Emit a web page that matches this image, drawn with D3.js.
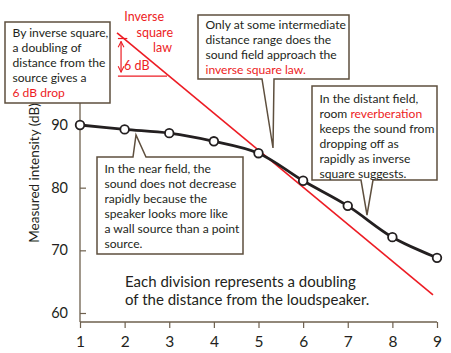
<!DOCTYPE html>
<html>
<head>
<meta charset="utf-8">
<script src="https://cdn.jsdelivr.net/npm/d3@7"></script>
<style>
  body { margin: 0; background: #fff; }
  svg text { font-family: Lato, "Open Sans", sans-serif; }
</style>
</head>
<body>
<div id="chart"></div>
<script>
// distance divisions (each one a doubling) and measured level
var distance = [1, 2, 3, 4, 5, 6, 7, 8, 9];
var measured = [90.0, 89.3, 88.7, 87.4, 85.5, 81.1, 77.1, 72.1, 68.8];

// inverse square law reference line (end points)
var invX = [1.83, 8.91];
var invDb = [104.7, 62.9];

// the "6 dB" bracket: two levels, and where each short line starts/ends
var bracketDb = [103.8, 97.8];
var bracketX0 = [1.85, 1.85];
var bracketX1 = [2.06, 2.95];
var arrowX = 1.92;

var xTicks = [1, 2, 3, 4, 5, 6, 7, 8, 9];
var yTicks = [60, 70, 80, 90];
var yTitle = "Measured intensity (dB)";
var lawLabel = ["Inverse", "square", "law"];
var dbLabel = "6 dB";
var footNote = ["Each division represents a doubling", "of the distance from the loudspeaker."];

// callout texts, each line a list of [text, isRed]
var note1 = [[["By inverse square,", 0]], [["a doubling of", 0]], [["distance from the", 0]],
             [["source gives a", 0]], [["6 dB drop", 1]]];
var note2 = [[["Only at some intermediate", 0]], [["distance range does the", 0]],
             [["sound field approach the", 0]], [["inverse square law.", 1]]];
var note3 = [[["In the near field, the", 0]], [["sound does not decrease", 0]], [["rapidly because the", 0]],
             [["speaker looks more like", 0]], [["a wall source than a point", 0]], [["source.", 0]]];
var note4 = [[["In the distant field,", 0]], [["room ", 0], ["reverberation", 1]], [["keeps the sound from", 0]],
             [["dropping off as", 0]], [["rapidly as inverse", 0]], [["square suggests.", 0]]];

var red = "#ed1c24", ink = "#231f20", axisCol = "#6e604e", boxCol = "#5e4f3e";

var W = 451, H = 353;
var svg = d3.select("#chart").append("svg").attr("width", W).attr("height", H);

var x = d3.scaleLinear().domain([1, 9]).range([80, 437]);
var y = d3.scaleLinear().domain([60, 90]).range([313, 125]);

// axes
svg.append("line").attr("x1", x(1)).attr("x2", x(1))
   .attr("y1", y(93.5)).attr("y2", 322)
   .attr("stroke", axisCol).attr("stroke-width", 1.3);
svg.append("line").attr("x1", x(1)).attr("x2", x(9))
   .attr("y1", 322).attr("y2", 322)
   .attr("stroke", axisCol).attr("stroke-width", 1.3);

var yAxis = d3.axisLeft(y).tickValues(yTicks).tickSize(-6).tickPadding(12);
var gy = svg.append("g").attr("transform", "translate(" + x(1) + ",0)").call(yAxis);
gy.select(".domain").remove();
gy.selectAll("line").attr("stroke", axisCol).attr("stroke-width", 1.2);
gy.selectAll("text").attr("fill", ink).style("font-size", "14.5px");

var xAxis = d3.axisBottom(x).tickValues(xTicks).tickSize(6).tickPadding(8).tickFormat(d3.format("d"));
var gx = svg.append("g").attr("transform", "translate(0,322)").call(xAxis);
gx.select(".domain").remove();
gx.selectAll("line").attr("stroke", axisCol).attr("stroke-width", 1.2);
gx.selectAll("text").attr("fill", ink).style("font-size", "15.5px");

svg.append("text")
   .attr("transform", "translate(39," + 173 + ") rotate(-90)")
   .attr("text-anchor", "middle")
   .attr("fill", ink).style("font-size", "13.5px")
   .text(yTitle);

// inverse square line
svg.append("line")
   .attr("x1", x(invX[0])).attr("y1", y(invDb[0]))
   .attr("x2", x(invX[1])).attr("y2", y(invDb[1]))
   .attr("stroke", red).attr("stroke-width", 1.6);

// 6 dB bracket
bracketDb.forEach(function(d, i){
  svg.append("line")
     .attr("x1", x(bracketX0[i])).attr("x2", x(bracketX1[i]))
     .attr("y1", y(d)).attr("y2", y(d))
     .attr("stroke", red).attr("stroke-width", 1.2);
});
var defs = svg.append("defs");
defs.append("marker").attr("id", "ah").attr("viewBox", "0 0 10 10")
    .attr("refX", 9).attr("refY", 5).attr("markerWidth", 6).attr("markerHeight", 6)
    .attr("orient", "auto-start-reverse")
  .append("path").attr("d", "M1,1 L9,5 L1,9").attr("fill", "none")
    .attr("stroke", red).attr("stroke-width", 1.5);
svg.append("line")
   .attr("x1", x(arrowX)).attr("x2", x(arrowX))
   .attr("y1", y(bracketDb[0]) + 3).attr("y2", y(bracketDb[1]) - 4)
   .attr("stroke", red).attr("stroke-width", 1.2)
   .attr("marker-start", "url(#ah)").attr("marker-end", "url(#ah)");
svg.append("text").attr("x", x(arrowX) + 3).attr("y", y(bracketDb[1]) - 6)
   .attr("fill", red).style("font-size", "12.5px").text(dbLabel);

// "Inverse square law" label, staggered lines
var lawX = [164, 173, 172], lawY = [21, 37, 52];
lawLabel.forEach(function(t, i){
  svg.append("text").attr("x", lawX[i]).attr("y", lawY[i])
     .attr("text-anchor", "end").attr("fill", red)
     .style("font-size", "12.5px").text(t);
});

// measured curve and points
var pts = distance.map(function(d, i){ return [d, measured[i]]; });
var line = d3.line().x(function(d){ return x(d[0]); }).y(function(d){ return y(d[1]); })
             .curve(d3.curveCatmullRom.alpha(0.5));
svg.append("path").datum(pts).attr("d", line)
   .attr("fill", "none").attr("stroke", ink).attr("stroke-width", 2.8);
svg.selectAll(".dot").data(pts).enter().append("circle")
   .attr("cx", function(d){ return x(d[0]); })
   .attr("cy", function(d){ return y(d[1]); })
   .attr("r", 4.3)
   .attr("fill", "#fff").attr("stroke", ink).attr("stroke-width", 1.8);

// callout boxes
function callout(box, tail, lines, baseline0){
  var x0 = box[0], y0 = box[1], x1 = box[2], y1 = box[3];
  var p;
  if (!tail) {
    p = [[x0,y0],[x1,y0],[x1,y1],[x0,y1]];
  } else if (tail.side == "bottom") {
    p = [[x0,y0],[x1,y0],[x1,y1],[tail.b,y1],[tail.tx,tail.ty],[tail.a,y1],[x0,y1]];
  } else {
    p = [[x0,y0],[tail.a,y0],[tail.tx,tail.ty],[tail.b,y0],[x1,y0],[x1,y1],[x0,y1]];
  }
  svg.append("path").attr("d", "M" + p.join("L") + "Z")
     .attr("fill", "#fff").attr("stroke", boxCol).attr("stroke-width", 1.5)
     .attr("stroke-linejoin", "miter");
  var t = svg.append("text").style("font-size", "12.1px").attr("fill", ink);
  lines.forEach(function(segs, i){
    segs.forEach(function(s, j){
      var ts = t.append("tspan").text(s[0]).attr("fill", s[1] ? red : ink);
      if (j == 0) ts.attr("x", x0 + 7.5).attr("y", baseline0 + i * 15.1);
    });
  });
}

callout([5, 22, 110, 103], null, note1, 36.5);
callout([198, 15, 349, 79], {side: "bottom", a: 262, b: 274, tx: 273, ty: 148}, note2, 28.5);
callout([97, 157, 243, 254], {side: "top", a: 133, b: 146, tx: 136, ty: 135}, note3, 172.5);
callout([312, 86, 437, 180], {side: "bottom", a: 361, b: 373, tx: 367, ty: 215}, note4, 102.5);

// footnote
footNote.forEach(function(t, i){
  svg.append("text").attr("x", 125).attr("y", 287 + i * 18)
     .attr("fill", ink).style("font-size", "15px").text(t);
});
</script>
</body>
</html>
